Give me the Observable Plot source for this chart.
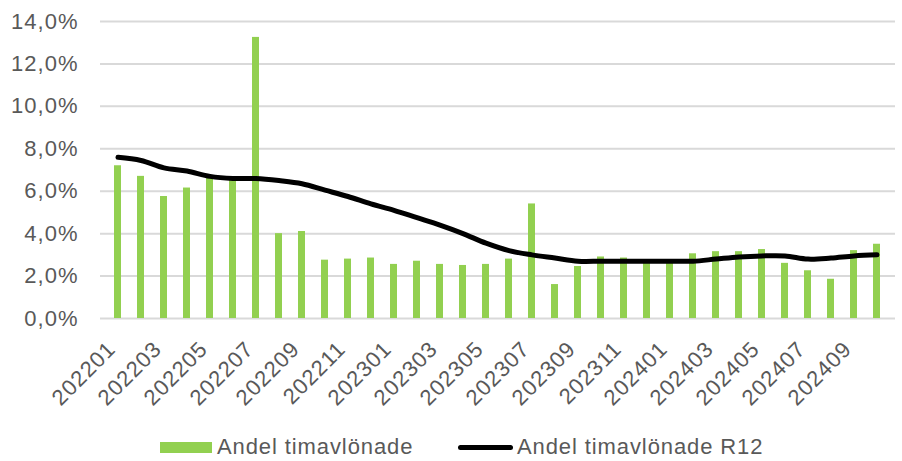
<!DOCTYPE html>
<html>
<head>
<meta charset="utf-8">
<script src="https://cdn.jsdelivr.net/npm/d3@7"></script>
<script src="https://cdn.jsdelivr.net/npm/@observablehq/plot@0.6"></script>
<style>
  body { margin: 0; background: #fff; font-family: "Liberation Sans", Arial, sans-serif; }
  #wrap { position: relative; width: 902px; height: 461px; overflow: hidden; }
  #chart { position: absolute; left: 0; top: 0; }
  .leg { position: absolute; top: 433px; height: 28px; display: flex; align-items: center; font-size: 22px; letter-spacing: 0.9px; color: #595959; white-space: nowrap; }
  .sw-bar { width: 52px; height: 11px; background: #92d050; margin-right: 5px; }
  .sw-line { width: 55px; height: 5px; background: #000; border-radius: 3px; margin-right: 4px; }
</style>
</head>
<body>
<div id="wrap">
  <div id="chart"></div>
  <div class="leg" style="left:160px"><div class="sw-bar"></div><span>Andel timavlönade</span></div>
  <div class="leg" style="left:458px"><div class="sw-line"></div><span>Andel timavlönade R12</span></div>
</div>
<script>
const months = ["202201","202202","202203","202204","202205","202206","202207","202208","202209","202210","202211","202212",
  "202301","202302","202303","202304","202305","202306","202307","202308","202309","202310","202311","202312",
  "202401","202402","202403","202404","202405","202406","202407","202408","202409","202410"];
const andel = [7.2,6.7,5.75,6.15,6.6,6.5,13.25,4.0,4.1,2.75,2.8,2.85,
  2.55,2.7,2.55,2.5,2.55,2.8,5.4,1.6,2.45,2.9,2.85,2.7,
  2.6,3.05,3.15,3.15,3.25,2.6,2.25,1.85,3.2,3.5];
const andelR12 = [7.6,7.45,7.1,6.95,6.7,6.6,6.6,6.5,6.35,6.05,5.75,5.4,
  5.1,4.75,4.4,4.0,3.55,3.2,3.0,2.85,2.7,2.7,2.7,2.7,
  2.7,2.7,2.8,2.9,2.95,2.95,2.8,2.85,2.95,3.0];
const yTicks = [0,2,4,6,8,10,12,14];
const xTicks = months.filter((m, i) => i % 2 === 0);

const data = months.map((m, i) => ({month: m, andel: andel[i], r12: andelR12[i]}));
const fmt = d => d.toFixed(1).replace(".", ",") + "%";

const chart = Plot.plot({
  width: 902,
  height: 425,
  marginLeft: 100,
  marginRight: 7,
  marginTop: 21,
  marginBottom: 107,
  style: {fontFamily: "'Liberation Sans', Arial, sans-serif", fontSize: "22px", color: "#595959", background: "transparent", letterSpacing: "1px"},
  x: {type: "band", domain: months, paddingInner: 0.68, paddingOuter: 0.34, label: null},
  y: {domain: [0, 14], label: null},
  marks: [
    Plot.gridY(yTicks, {stroke: "#d9d9d9", strokeOpacity: 1, strokeWidth: 2}),
    Plot.barY(data, {x: "month", y: "andel", fill: "#92d050"}),
    Plot.line(data, {x: "month", y: "r12", stroke: "#000", strokeWidth: 5, curve: "catmull-rom", strokeLinecap: "round", strokeLinejoin: "round"}),
    Plot.axisY(yTicks, {tickSize: 0, tickPadding: 22, tickFormat: fmt, fill: "#595959", fontSize: 22, label: null}),
    Plot.axisX(xTicks, {tickSize: 0, tickPadding: 27, dx: -6, tickRotate: -45, fill: "#595959", fontSize: 22, label: null})
  ]
});
document.getElementById("chart").appendChild(chart);
</script>
</body>
</html>
